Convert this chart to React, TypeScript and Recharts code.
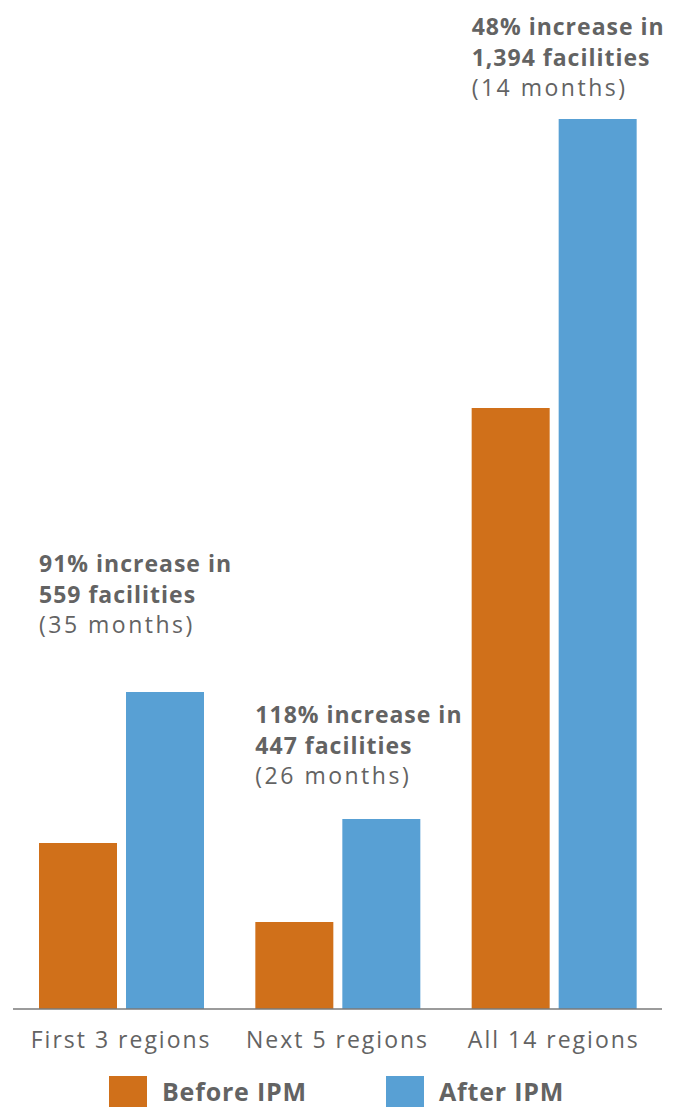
import { BarChart, Bar, XAxis, YAxis, LabelList } from 'recharts'

const regions = ['First 3 regions', 'Next 5 regions', 'All 14 regions']
const beforeIpm = [166, 87, 601]
const afterIpm = [317, 190, 890]
const increaseLines = ['91% increase in', '118% increase in', '48% increase in']
const facilityLines = ['559 facilities', '447 facilities', '1,394 facilities']
const monthLines = ['(35 months)', '(26 months)', '(14 months)']

const series = [
  { key: 'before', name: 'Before IPM', color: '#D0701A' },
  { key: 'after', name: 'After IPM', color: '#58A0D4' },
]

const data = regions.map((region, i) => ({
  region,
  before: beforeIpm[i],
  after: afterIpm[i],
}))

const FONT = '"Open Sans", sans-serif'
const TEXT = '#636363'

// gap between the last annotation line and the top of the After bar
const labelGap = [62, 38, 26]

function Annotation(props: any) {
  const { x, y, index } = props
  const left = x - 87
  const base = y - labelGap[index] - 58
  return (
    <g fontFamily={FONT} fontSize={23} fill={TEXT}>
      <text x={left} y={base} fontWeight={700} letterSpacing={1}>
        {increaseLines[index]}
      </text>
      <text x={left} y={base + 30.5} fontWeight={700} letterSpacing={1}>
        {facilityLines[index]}
      </text>
      <text x={left} y={base + 61} letterSpacing={2.5}>
        {monthLines[index]}
      </text>
    </g>
  )
}

function RegionTick(props: any) {
  const { x, y, payload } = props
  return (
    <text
      x={x}
      y={y + 39}
      textAnchor="middle"
      fontFamily={FONT}
      fontSize={23}
      letterSpacing={2}
      fill={TEXT}
    >
      {payload.value}
    </text>
  )
}

export default function App() {
  return (
    <div style={{ position: 'absolute', left: 0, top: 0, width: 689, height: 1108, background: '#fff', overflow: 'hidden' }}>
      <BarChart
        width={689}
        height={1108}
        data={data}
        margin={{ top: 119, right: 27, bottom: 69, left: 13 }}
        barSize={78}
        barGap={9}
      >
        <XAxis
          dataKey="region"
          height={30}
          tickLine={false}
          tickSize={0}
          tickMargin={0}
          axisLine={{ stroke: '#7a7a7a', strokeWidth: 1.5 }}
          tick={<RegionTick />}
          interval={0}
        />
        <YAxis hide domain={[0, 890]} />
        {series.map((s) => (
          <Bar key={s.key} dataKey={s.key} name={s.name} fill={s.color} isAnimationActive={false}>
            {s.key === 'after' && <LabelList dataKey="after" content={<Annotation />} />}
          </Bar>
        ))}
      </BarChart>
      <div
        style={{
          position: 'absolute',
          left: 109,
          top: 1076,
          display: 'flex',
          fontFamily: FONT,
          fontWeight: 700,
          fontSize: 25,
          color: TEXT,
        }}
      >
        {series.map((s) => (
          <div key={s.key} style={{ width: 277, display: 'flex', alignItems: 'flex-start' }}>
            <div style={{ width: 38, height: 31, background: s.color, marginRight: 15 }} />
            <span style={{ lineHeight: 1, marginTop: 3, letterSpacing: 0.8 }}>{s.name}</span>
          </div>
        ))}
      </div>
    </div>
  )
}
